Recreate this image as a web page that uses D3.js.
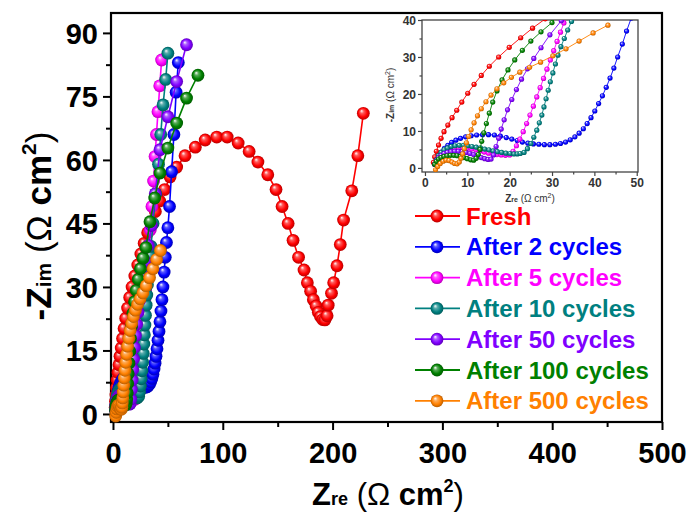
<!DOCTYPE html>
<html><head><meta charset="utf-8">
<script src="https://cdn.jsdelivr.net/npm/d3@7"></script>
<style>body{margin:0;background:#fff} svg{display:block} text{font-family:"Liberation Sans",Arial,sans-serif}</style>
</head><body><svg id="c" width="692" height="513"></svg>
<script>
// ---------------- data ----------------
const seriesNames = ["Fresh","After 2 cycles","After 5 cycles","After 10 cycles","After 50 cycles","After 100 cycles","After 500 cycles"];
const seriesColors = ["#ff0000","#0000ff","#ff00ff","#008080","#8000ff","#008000","#ff8000"];

const freshZre = [2.0,2.3,2.7,3.2,3.8,4.5,5.4,6.4,7.5,8.7,10.1,11.6,13.3,15.2,17.4,19.9,22.6,25.4,28.4,31.6,35.0,38.6,42.5,47,52,58,65.6,75,84,94.5,104,114,124,132,141,148.5,154,159.5,164,169,174,177,180,182.5,185,187,189,191,193,195,196,199,201,204,207,210,217.5,223,228];
const freshZim = [1.5,3.0,4.5,6.2,8.0,9.8,11.6,13.6,15.6,17.8,20.2,22.6,25.0,27.5,30.0,32.6,35.2,37.8,40.3,42.8,45.3,47.8,50.3,53,56,58.3,61,63,64.7,65.4,65.4,64,62,59.5,56.5,53,49,45,41,37,34,31,29,27,25.5,24,23,22.3,22.2,23.2,25.7,28.5,31,35,40,45.8,52.7,61,71];

const c2Zre = [2.4,2.8,3.3,3.9,4.6,5.4,6.3,7.3,8.4,9.6,10.9,12.2,13.6,15.0,16.4,17.8,19.2,20.5,21.8,23.0,24.3,25.6,26.9,28.2,29.5,30.8,32.0,33.2,34.3,35.4,36.4,37.4,38.3,39.2,40.1,41.0,41.9,42.8,43.7,44.6,45.5,46.6,47.6,48.7,50,51.5,53.4,55.5,57.5,59.5];
const c2Zim = [1.0,2.2,3.3,4.3,5.3,6.1,6.9,7.5,8.0,8.4,8.7,8.9,9.0,9.0,8.9,8.6,8.2,7.8,7.4,7.0,6.7,6.5,6.4,6.3,6.3,6.4,6.6,7.0,7.6,8.4,9.4,10.6,12.0,13.6,15.4,17.4,19.5,21.8,24.3,27.0,30.0,33.5,37,40.5,44,49,57.2,66,76,83];

const c5Zre = [2.3,2.7,3.2,3.8,4.5,5.3,6.1,7.0,8.0,9.0,10.0,11.0,12.0,13.0,14.0,15.0,16.0,17.0,18.0,19.0,20.0,20.8,21.6,22.4,23.2,24.0,24.8,25.6,26.4,27.2,28.0,28.8,29.6,30.4,31.2,32.0,32.8,34.0,35.5,37.0,38.3,39.6,41.0,42.6,44.3];
const c5Zim = [1.0,2.1,3.0,3.8,4.4,4.8,5.1,5.3,5.4,5.4,5.3,5.1,4.9,4.6,4.3,4.0,3.8,3.6,3.5,3.4,3.5,4.5,6.0,7.8,9.8,12.0,14.3,16.7,19.2,21.7,24.2,26.7,29.2,31.7,34.2,36.7,39.2,43.5,49,55,60.8,66,71.4,77.5,83.6];

const c10Zre = [2.3,2.7,3.2,3.8,4.5,5.3,6.2,7.1,8.1,9.1,10.1,11.1,12.1,13.1,14.1,15.1,16.1,17.1,18.1,19.1,20.1,21.0,21.8,22.5,23.4,24.2,25.0,25.7,26.4,27.0,27.6,28.1,28.6,29.1,29.6,30.2,30.8,31.4,32.1,32.9,33.7,34.6,36.5,39,41.5,43.5,45.6,48,50];
const c10Zim = [1.0,2.2,3.3,4.2,4.9,5.4,5.8,6.0,6.1,6.1,6.0,5.8,5.6,5.4,5.1,4.9,4.6,4.4,4.2,4.0,3.9,3.8,3.8,3.9,4.2,5.2,6.6,8.3,10.2,12.2,14.3,16.5,18.7,21,23.3,25.7,28.1,30.5,32.8,35,37.3,39.6,45,52,59,66,73,79,85.2];

const c50Zre = [2.3,2.7,3.2,3.8,4.5,5.3,6.1,7.0,7.9,8.8,9.7,10.6,11.5,12.4,13.3,14.1,14.9,15.6,16.2,16.8,17.4,18.0,18.7,19.5,20.5,21.6,22.8,24.2,25.7,27.4,29.5,32.2,35,38.5,42.8,50,58,67];
const c50Zim = [1.0,2.0,2.8,3.4,3.9,4.2,4.4,4.5,4.5,4.4,4.2,3.9,3.6,3.2,2.8,2.5,2.3,2.4,3.5,5.8,8.0,10.5,13.0,15.7,18.5,21.2,24.0,26.8,29.6,32.5,36,39.8,44.5,52,62.4,70.2,78.5,87.2];

const c100Zre = [2.3,2.7,3.2,3.8,4.5,5.2,6.0,6.8,7.6,8.4,9.2,10.0,10.8,11.5,12.1,12.6,13.0,13.4,13.9,14.5,15.2,16.0,17.0,18.2,19.6,21.2,23.0,25.0,27.4,30.0,33.7,38,42.8,50,58,67,77.4];
const c100Zim = [1.0,1.8,2.4,2.8,3.1,3.3,3.4,3.4,3.3,3.1,2.8,2.5,2.2,2.1,2.6,3.6,5.0,7.2,9.5,12.0,14.8,17.8,20.8,23.8,26.5,29.2,31.8,34.3,36.8,39.3,45.4,51,56.9,62.8,68.7,74.6,80];

const c500Zre = [2.5,3.0,3.6,4.3,5.0,5.7,6.4,7.0,7.6,8.1,8.5,8.9,9.3,9.8,10.3,10.9,11.6,12.4,13.3,14.4,15.6,17.0,18.6,20.4,22.4,24.7,27.3,30.2,33.3,36.4,39.7,43.2];
const c500Zim = [-0.5,0.4,1.2,1.8,2.1,2.0,1.6,1.2,1.1,1.6,2.6,3.8,5.2,6.8,8.5,10.3,12.2,14.1,16.0,17.9,19.7,21.4,23.0,24.5,25.9,27.2,28.6,30.3,32.2,34.3,36.5,38.6];

const allZre = [freshZre,c2Zre,c5Zre,c10Zre,c50Zre,c100Zre,c500Zre];
const allZim = [freshZim,c2Zim,c5Zim,c10Zim,c50Zim,c100Zim,c500Zim];

const mainXTicks = [0,100,200,300,400,500];
const mainYTicks = [0,15,30,45,60,75,90];
const insetXTicks = [0,10,20,30,40,50];
const insetYTicks = [0,10,20,30,40];

// ---------------- drawing ----------------
const svg = d3.select("#c");
const defs = svg.append("defs");
seriesColors.forEach((c,i)=>{
  const g = defs.append("radialGradient").attr("id","g"+i).attr("cx","50%").attr("cy","50%").attr("r","50%").attr("fx","35%").attr("fy","30%");
  g.append("stop").attr("offset","0%").attr("stop-color","#ffffff");
  g.append("stop").attr("offset","30%").attr("stop-color",d3.interpolateRgb(c,"#fff")(0.35));
  g.append("stop").attr("offset","70%").attr("stop-color",c);
  g.append("stop").attr("offset","100%").attr("stop-color",d3.color(c).darker(0.9));
});

const series = seriesNames.map((n,i)=>({name:n,color:seriesColors[i],pts:allZre[i].map((x,j)=>[x,allZim[i][j]])}));

// main chart
const x = d3.scaleLinear().domain([-1.8,500]).range([111,662]);
const y = d3.scaleLinear().domain([-1.9,94.7]).range([422,13]);

const gx = svg.append("g").attr("transform","translate(0,422)");
gx.call(d3.axisBottom(x).tickValues(mainXTicks).tickSize(8).tickPadding(12).tickFormat(d3.format("d")));
svg.append("g").attr("transform","translate(0,422)").call(d3.axisBottom(x).tickValues([50,150,250,350,450]).tickSize(5).tickFormat(""));
const gy = svg.append("g").attr("transform","translate(111,0)");
gy.call(d3.axisLeft(y).tickValues(mainYTicks).tickSize(8).tickPadding(5).tickFormat(d3.format("d")));
svg.append("g").attr("transform","translate(111,0)").call(d3.axisLeft(y).tickValues([7.5,22.5,37.5,52.5,67.5,82.5]).tickSize(5).tickFormat(""));
svg.selectAll(".domain").remove();
svg.selectAll(".tick line").attr("stroke","#000").attr("stroke-width",2);
gx.selectAll("text").attr("font-size",29).attr("font-weight","bold").attr("fill","#000");
gy.selectAll("text").attr("font-size",29).attr("font-weight","bold").attr("fill","#000").attr("dy","0.35em");

svg.append("rect").attr("x",111).attr("y",13).attr("width",551).attr("height",409).attr("fill","none").attr("stroke","#000").attr("stroke-width",2.2);

const line = d3.line().x(d=>x(d[0])).y(d=>y(d[1]));
series.forEach((s,i)=>{
  const g = svg.append("g");
  g.append("path").attr("d",line(s.pts)).attr("fill","none").attr("stroke",s.color).attr("stroke-width",1.6);
  g.selectAll("circle").data(s.pts).join("circle").attr("cx",d=>x(d[0])).attr("cy",d=>y(d[1])).attr("r",6.4).attr("fill","url(#g"+i+")");
});

// axis titles
const xt = svg.append("text").attr("x",388).attr("y",505).attr("text-anchor","middle").attr("font-size",31).attr("fill","#000");
xt.append("tspan").attr("font-weight","bold").text("Z");
xt.append("tspan").attr("font-weight","bold").attr("font-size",18).text("re");
xt.append("tspan").text(" (Ω ");
xt.append("tspan").attr("font-weight","bold").text("cm");
xt.append("tspan").attr("font-weight","bold").attr("font-size",18).attr("dy",-13).text("2");
xt.append("tspan").attr("dy",13).text(")");

const yt = svg.append("text").attr("transform","translate(51,226) rotate(-90)").attr("text-anchor","middle").attr("font-size",35).attr("fill","#000");
yt.append("tspan").attr("font-weight","bold").text("-Z");
yt.append("tspan").attr("font-weight","bold").attr("font-size",21).text("im");
yt.append("tspan").text(" (Ω ");
yt.append("tspan").attr("font-weight","bold").text("cm");
yt.append("tspan").attr("font-weight","bold").attr("font-size",21).attr("dy",-15).text("2");
yt.append("tspan").attr("dy",15).text(")");

// legend
series.forEach((s,i)=>{
  const cy = 216 + i*30.8;
  const g = svg.append("g");
  g.append("line").attr("x1",415).attr("x2",460).attr("y1",cy).attr("y2",cy).attr("stroke",s.color).attr("stroke-width",1.8);
  g.append("circle").attr("cx",437).attr("cy",cy).attr("r",6.4).attr("fill","url(#g"+i+")");
  g.append("text").attr("x",466).attr("y",cy+8.5).attr("font-size",24).attr("font-weight","bold").attr("fill",s.color).text(s.name);
});

// inset
const ix = d3.scaleLinear().domain([-0.7,50.3]).range([422,638]);
const iy = d3.scaleLinear().domain([-1.1,40]).range([172,20]);
defs.append("clipPath").attr("id","ic").append("rect").attr("x",422).attr("y",20).attr("width",216).attr("height",152);
const igx = svg.append("g").attr("transform","translate(0,172)");
igx.call(d3.axisBottom(ix).tickValues(insetXTicks).tickSize(4).tickPadding(2).tickFormat(d3.format("d")));
svg.append("g").attr("class","imin").attr("transform","translate(0,172)").call(d3.axisBottom(ix).tickValues([5,15,25,35,45]).tickSize(2.5).tickFormat(""));
const igy = svg.append("g").attr("transform","translate(422,0)");
igy.call(d3.axisLeft(iy).tickValues(insetYTicks).tickSize(4).tickPadding(2).tickFormat(d3.format("d")));
svg.append("g").attr("class","imin").attr("transform","translate(422,0)").call(d3.axisLeft(iy).tickValues([5,15,25,35]).tickSize(2.5).tickFormat(""));
svg.selectAll(".domain").remove();
[igx,igy].forEach(g=>{g.selectAll("text").attr("font-size",12).attr("font-weight","bold").attr("fill","#333");g.selectAll("line").attr("stroke","#444").attr("stroke-width",1.2);});
svg.selectAll(".imin line").attr("stroke","#444").attr("stroke-width",1.2);
igy.selectAll("text").attr("dy","0.35em");
svg.append("rect").attr("x",422).attr("y",20).attr("width",216).attr("height",152).attr("fill","none").attr("stroke","#444").attr("stroke-width",1.3);

const iline = d3.line().x(d=>ix(d[0])).y(d=>iy(d[1]));
const ig = svg.append("g").attr("clip-path","url(#ic)");
series.forEach((s,i)=>{
  ig.append("path").attr("d",iline(s.pts)).attr("fill","none").attr("stroke",s.color).attr("stroke-width",0.9);
  ig.append("g").selectAll("circle").data(s.pts).join("circle").attr("cx",d=>ix(d[0])).attr("cy",d=>iy(d[1])).attr("r",2.6).attr("fill","url(#g"+i+")");
});

const ixt = svg.append("text").attr("x",530).attr("y",202).attr("text-anchor","middle").attr("font-size",10).attr("fill","#333");
ixt.append("tspan").attr("font-weight","bold").text("Z");
ixt.append("tspan").attr("font-size",7).attr("font-weight","bold").text("re");
ixt.append("tspan").text(" (Ω cm");
ixt.append("tspan").attr("font-size",7).attr("dy",-4).text("2");
ixt.append("tspan").attr("dy",4).text(")");
const iyt = svg.append("text").attr("transform","translate(394,95) rotate(-90)").attr("text-anchor","middle").attr("font-size",10).attr("fill","#333");
iyt.append("tspan").attr("font-weight","bold").text("-Z");
iyt.append("tspan").attr("font-size",7).attr("font-weight","bold").text("im");
iyt.append("tspan").text(" (Ω cm");
iyt.append("tspan").attr("font-size",7).attr("dy",-4).text("2");
iyt.append("tspan").attr("dy",4).text(")");
</script></body></html>
